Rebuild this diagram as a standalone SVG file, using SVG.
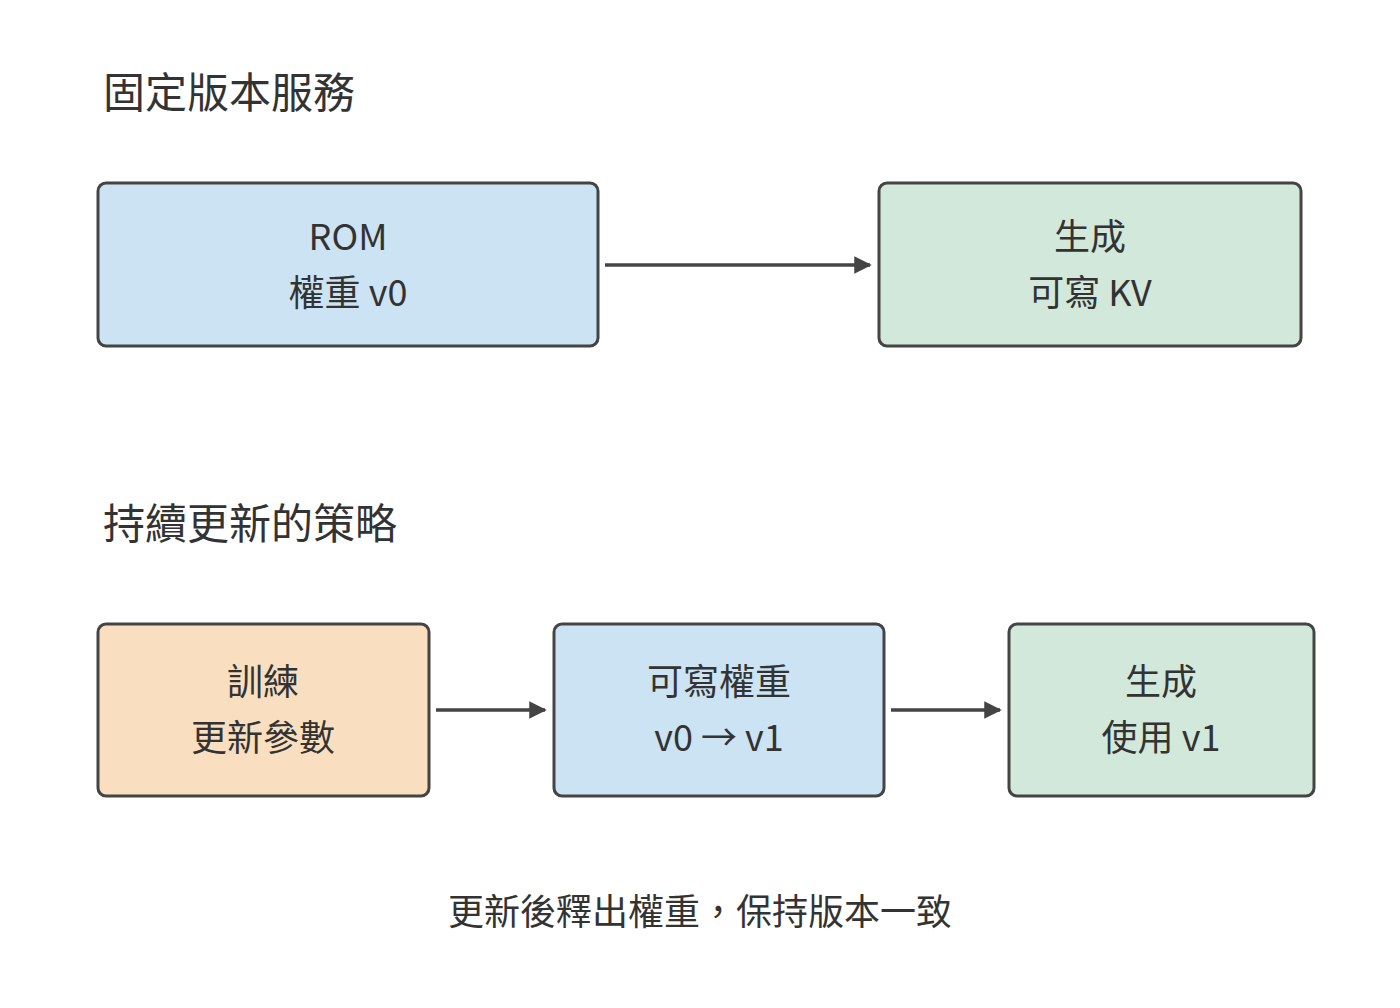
<svg xmlns="http://www.w3.org/2000/svg" width="1400" height="1008" viewBox="0 0 1400 1008">
<defs>
<style>
text{font-family:"Noto Sans CJK TC","Noto Sans",sans-serif;fill:#333}
.t{font-size:42px}
.n{font-size:36px;text-anchor:middle}
.b{stroke:#444;stroke-width:3}
.c{stroke:#444;stroke-width:3.5;fill:none}
</style>
<marker id="a" viewBox="0 0 10 10" refX="9" refY="5" markerWidth="5" markerHeight="5" orient="auto" markerUnits="strokeWidth"><path d="M0,0L10,5L0,10z" fill="#444"/></marker>
</defs>
<rect width="1400" height="1008" fill="#fff"/>
<text class="t" x="103" y="108">固定版本服務</text>
<text class="t" x="103" y="539">持續更新的策略</text>
<g id="n1"><rect class="b" x="98" y="183" width="500" height="163" rx="8" fill="#cce3f3"/><text class="n" x="348" y="250">ROM</text><text class="n" x="348" y="306">權重 v0</text></g>
<g id="n2"><rect class="b" x="879" y="183" width="422" height="163" rx="8" fill="#d2e8db"/><text class="n" x="1090" y="250">生成</text><text class="n" x="1090" y="306">可寫 KV</text></g>
<g id="n3"><rect class="b" x="98" y="624" width="331" height="172" rx="8" fill="#f9dfc0"/><text class="n" x="263" y="695">訓練</text><text class="n" x="263" y="751">更新參數</text></g>
<g id="n4"><rect class="b" x="554" y="624" width="330" height="172" rx="8" fill="#cce3f3"/><text class="n" x="719" y="695">可寫權重</text><text class="n" x="719" y="751">v0 → v1</text></g>
<g id="n5"><rect class="b" x="1009" y="624" width="305" height="172" rx="8" fill="#d2e8db"/><text class="n" x="1161" y="695">生成</text><text class="n" x="1161" y="751">使用 v1</text></g>
<g id="connectors">
<path class="c" d="M605,265H870" marker-end="url(#a)"/>
<path class="c" d="M436,710H545" marker-end="url(#a)"/>
<path class="c" d="M891,710H1000" marker-end="url(#a)"/>
</g>
<text class="n" x="700" y="925">更新後釋出權重，保持版本一致</text>
</svg>
